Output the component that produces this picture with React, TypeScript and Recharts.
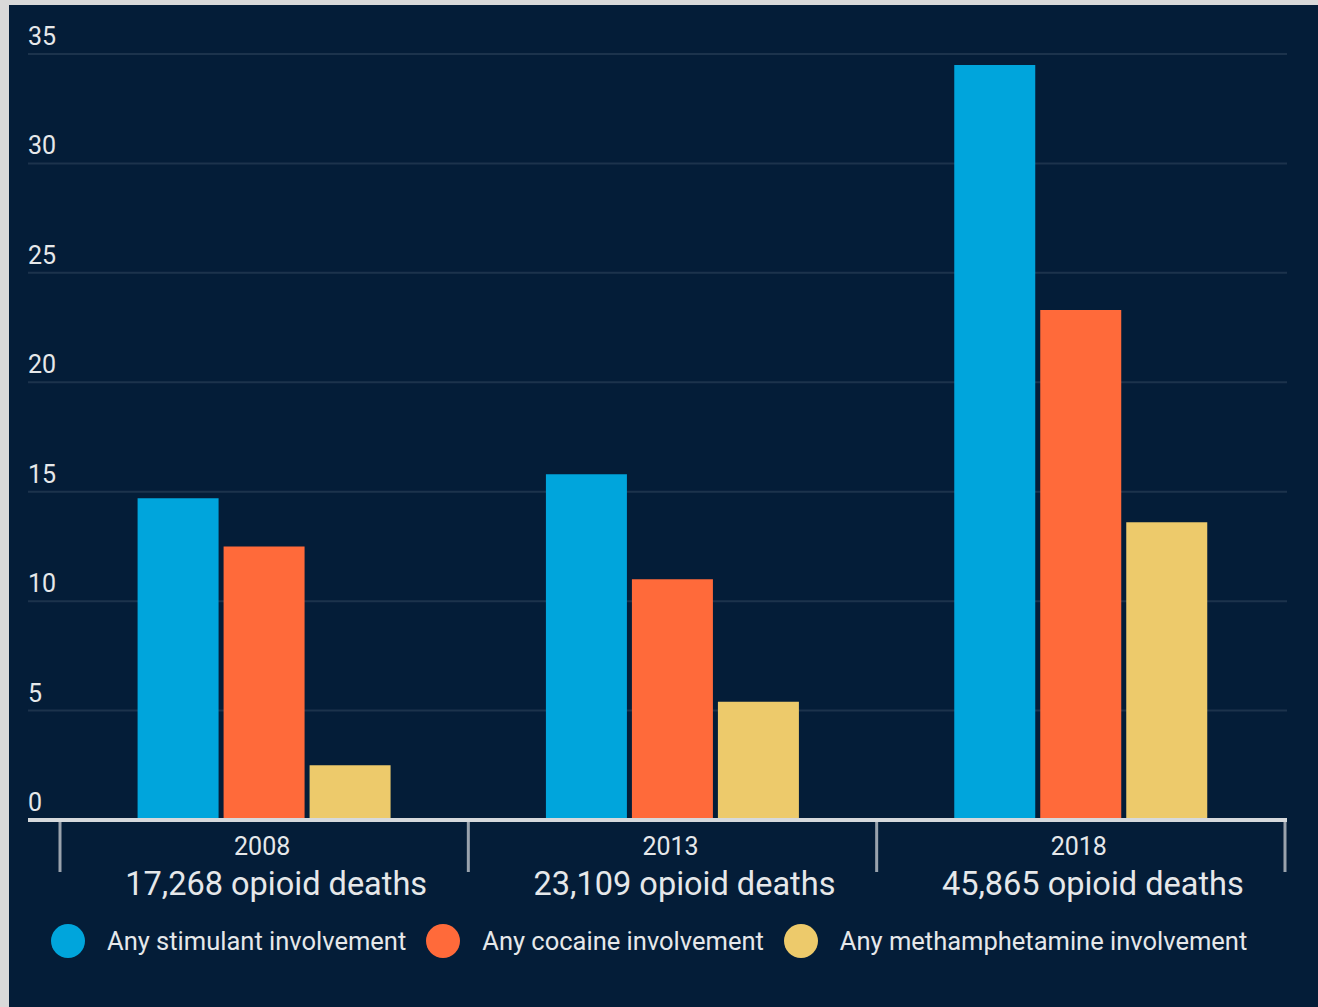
import { BarChart, Bar, XAxis, YAxis, CartesianGrid, Legend } from "recharts";

// values (percent of opioid deaths)
const years = ["2008", "2013", "2018"];
const opioidDeaths = ["17,268", "23,109", "45,865"];
const stimulant = [14.7, 15.8, 34.5];
const cocaine = [12.5, 11.0, 23.3];
const meth = [2.5, 5.4, 13.6];
const yTicks = [0, 5, 10, 15, 20, 25, 30, 35];

const seriesNames = [
  "Any stimulant involvement",
  "Any cocaine involvement",
  "Any methamphetamine involvement",
];
const colors = ["#00a5dc", "#ff6a3a", "#edca6b"];

const data = years.map((year, i) => ({
  year,
  deaths: opioidDeaths[i],
  stimulant: stimulant[i],
  cocaine: cocaine[i],
  meth: meth[i],
}));

const FONT = "Roboto, 'Liberation Sans', sans-serif";
const TEXT = "#e6e8ea";
const PLOT_LEFT = 28;

const YTick = (props: any) => {
  const { y, payload } = props;
  return (
    <text x={PLOT_LEFT} y={y} dy={-9} textAnchor="start" fill={TEXT} fontSize={25} fontFamily={FONT}>
      {payload.value}
    </text>
  );
};

const XTick = (props: any) => {
  const { x, y, payload, index } = props;
  const half = payload.offset || 204;
  const row = data.find((d) => d.year === payload.value);
  return (
    <g>
      <line x1={x - half} x2={x - half} y1={y + 2} y2={y + 52} stroke="#9aa3ad" strokeWidth={3} />
      {index === years.length - 1 && (
        <line x1={x + half} x2={x + half} y1={y + 2} y2={y + 52} stroke="#9aa3ad" strokeWidth={3} />
      )}
      <text x={x - 2} y={y + 35} textAnchor="middle" fill={TEXT} fontSize={25} fontFamily={FONT}>
        {payload.value}
      </text>
      <text x={x + 12} y={y + 75} textAnchor="middle" fill={TEXT} fontSize={32.5} fontFamily={FONT}>
        {row ? row.deaths : ""} opioid deaths
      </text>
    </g>
  );
};

const LegendContent = () => (
  <div
    style={{
      display: "flex",
      alignItems: "center",
      height: 40,
      paddingLeft: 51,
      fontFamily: FONT,
      fontSize: 25.5,
      color: TEXT,
      whiteSpace: "nowrap",
    }}
  >
    {seriesNames.map((name, i) => (
      <div key={name} style={{ display: "flex", alignItems: "center", marginRight: 20 }}>
        <span
          style={{
            width: 34,
            height: 34,
            borderRadius: "50%",
            background: colors[i],
            marginRight: 22,
            display: "inline-block",
          }}
        />
        <span>{name}</span>
      </div>
    ))}
  </div>
);

export default function App() {
  return (
    <div style={{ position: "relative", width: 1318, height: 1007, background: "#d9d9d9" }}>
      <style>{"body{margin:0}"}</style>
      <div
        style={{
          position: "absolute",
          left: 9,
          top: 5,
          width: 1309,
          height: 1002,
          background: "#041d38",
        }}
      />
      <div style={{ position: "absolute", left: 0, top: 0 }}>
        <BarChart
          width={1318}
          height={1007}
          data={data}
          margin={{ top: 54, right: 31, left: 0, bottom: 46 }}
          barCategoryGap="19%"
          barGap={5}
        >
          <CartesianGrid horizontal vertical={false} stroke="#1c334c" strokeWidth={2} />
          <XAxis
            dataKey="year"
            height={101}
            padding={{ left: 32, right: 2 }}
            axisLine={{ stroke: "#d6d9dc", strokeWidth: 4 }}
            tickLine={false}
            tickSize={0}
            tickMargin={0}
            tick={<XTick />}
            interval={0}
          />
          <YAxis
            width={PLOT_LEFT}
            domain={[0, 35]}
            ticks={yTicks}
            axisLine={false}
            tickLine={false}
            tickSize={0}
            tickMargin={0}
            tick={<YTick />}
            interval={0}
          />
          <Legend
            verticalAlign="bottom"
            content={<LegendContent />}
            wrapperStyle={{ left: 0, width: 1318, height: 40 }}
          />
          <Bar dataKey="stimulant" name={seriesNames[0]} fill={colors[0]} isAnimationActive={false} />
          <Bar dataKey="cocaine" name={seriesNames[1]} fill={colors[1]} isAnimationActive={false} />
          <Bar dataKey="meth" name={seriesNames[2]} fill={colors[2]} isAnimationActive={false} />
        </BarChart>
      </div>
    </div>
  );
}
